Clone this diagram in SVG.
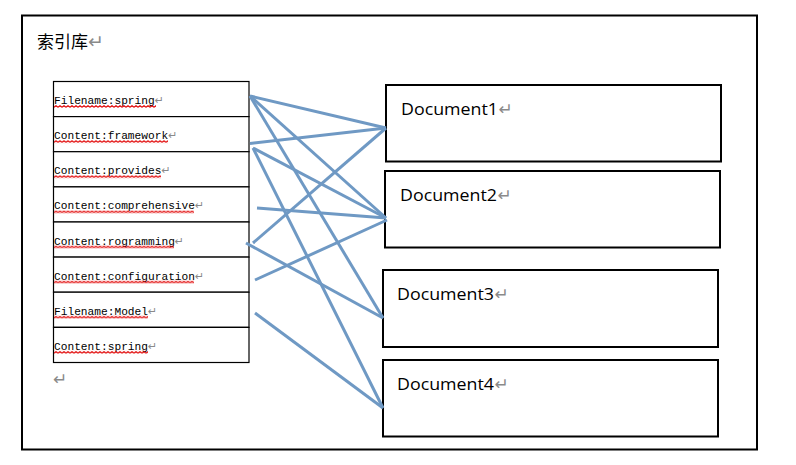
<svg xmlns="http://www.w3.org/2000/svg" width="796" height="465" viewBox="0 0 796 465">
<style>
.box{fill:#fff;stroke:#000;stroke-width:2}
.cell{fill:#fff;stroke:#000;stroke-width:1.2}
.term{font-family:"Liberation Mono","DejaVu Sans Mono",monospace;font-size:11.2px;fill:#000}
.doc{font-family:"Open Sans","Liberation Sans",sans-serif;font-size:16.5px;fill:#000}
.ret{fill:#8a8a8a;font-family:"DejaVu Sans",sans-serif}
.conn line{stroke:#6f99c4;stroke-width:3;stroke-linecap:butt}
</style>
<defs>
<pattern id="wave" patternUnits="userSpaceOnUse" width="4" height="3">
<path d="M0,2.3 L2,0.7 L4,2.3" fill="none" stroke="#e00000" stroke-width="1.1"/>
</pattern>
</defs>
<rect width="796" height="465" fill="#fff"/>
<g id="index">
<rect class="box" x="22" y="15.5" width="735" height="434"/>
<text x="37" y="48" font-family="'Noto Sans CJK SC',sans-serif" font-size="17" fill="#000">索引库<tspan class="ret" font-size="19">↵</tspan></text>
</g>
<g id="table">
<g id="row1"><rect class="cell" x="53.5" y="81.5" width="195.5" height="35.1"/><text class="term" x="54" y="104">Filename:spring<tspan class="ret" font-size="11">↵</tspan></text><g transform="translate(54,105)"><rect width="102" height="3" fill="url(#wave)"/></g></g>
<g id="row2"><rect class="cell" x="53.5" y="116.6" width="195.5" height="35.1"/><text class="term" x="54" y="139.1">Content:framework<tspan class="ret" font-size="11">↵</tspan></text><g transform="translate(54,140.1)"><rect width="114" height="3" fill="url(#wave)"/></g></g>
<g id="row3"><rect class="cell" x="53.5" y="151.7" width="195.5" height="35.1"/><text class="term" x="54" y="174.2">Content:provides<tspan class="ret" font-size="11">↵</tspan></text><g transform="translate(54,175.2)"><rect width="107" height="3" fill="url(#wave)"/></g></g>
<g id="row4"><rect class="cell" x="53.5" y="186.9" width="195.5" height="35.1"/><text class="term" x="54" y="209.4">Content:comprehensive<tspan class="ret" font-size="11">↵</tspan></text><g transform="translate(54,210.4)"><rect width="140" height="3" fill="url(#wave)"/></g></g>
<g id="row5"><rect class="cell" x="53.5" y="222" width="195.5" height="35.1"/><text class="term" x="54" y="244.5">Content:rogramming<tspan class="ret" font-size="11">↵</tspan></text><g transform="translate(54,245.5)"><rect width="120" height="3" fill="url(#wave)"/></g></g>
<g id="row6"><rect class="cell" x="53.5" y="257.1" width="195.5" height="35.1"/><text class="term" x="54" y="279.6">Content:configuration<tspan class="ret" font-size="11">↵</tspan></text><g transform="translate(54,280.6)"><rect width="140" height="3" fill="url(#wave)"/></g></g>
<g id="row7"><rect class="cell" x="53.5" y="292.2" width="195.5" height="35.1"/><text class="term" x="54" y="314.7">Filename:Model<tspan class="ret" font-size="11">↵</tspan></text><g transform="translate(54,315.7)"><rect width="94" height="3" fill="url(#wave)"/></g></g>
<g id="row8"><rect class="cell" x="53.5" y="327.4" width="195.5" height="35.1"/><text class="term" x="54" y="349.9">Content:spring<tspan class="ret" font-size="11">↵</tspan></text><g transform="translate(54,350.9)"><rect width="94" height="3" fill="url(#wave)"/></g></g>
<text class="ret" x="53" y="385" font-size="17">↵</text>
</g>
<g id="doc1"><rect class="box" x="386" y="85" width="335" height="76.5"/><text class="doc" x="401" y="115" textLength="97" lengthAdjust="spacingAndGlyphs">Document1</text><text class="ret" x="498.5" y="115" font-size="17">↵</text></g>
<g id="doc2"><rect class="box" x="385" y="171" width="335" height="76.5"/><text class="doc" x="400" y="201" textLength="97" lengthAdjust="spacingAndGlyphs">Document2</text><text class="ret" x="497.5" y="201" font-size="17">↵</text></g>
<g id="doc3"><rect class="box" x="383" y="270" width="335" height="77"/><text class="doc" x="397" y="300" textLength="97" lengthAdjust="spacingAndGlyphs">Document3</text><text class="ret" x="494.5" y="300" font-size="17">↵</text></g>
<g id="doc4"><rect class="box" x="383" y="360" width="335" height="76.5"/><text class="doc" x="397" y="390" textLength="97" lengthAdjust="spacingAndGlyphs">Document4</text><text class="ret" x="494.5" y="390" font-size="17">↵</text></g>
<g id="connectors" class="conn">
<line x1="250" y1="96" x2="386" y2="128"/>
<line x1="250" y1="96" x2="386" y2="218"/>
<line x1="250" y1="96" x2="383" y2="318"/>
<line x1="250" y1="143.5" x2="386" y2="128"/>
<line x1="253" y1="148" x2="386" y2="218"/>
<line x1="253" y1="148" x2="383" y2="408"/>
<line x1="257" y1="208" x2="386" y2="218"/>
<line x1="253" y1="243" x2="386" y2="128"/>
<line x1="246" y1="243" x2="383" y2="318"/>
<line x1="255" y1="280" x2="387" y2="220"/>
<line x1="255" y1="313" x2="383" y2="408"/>
</g>
</svg>
